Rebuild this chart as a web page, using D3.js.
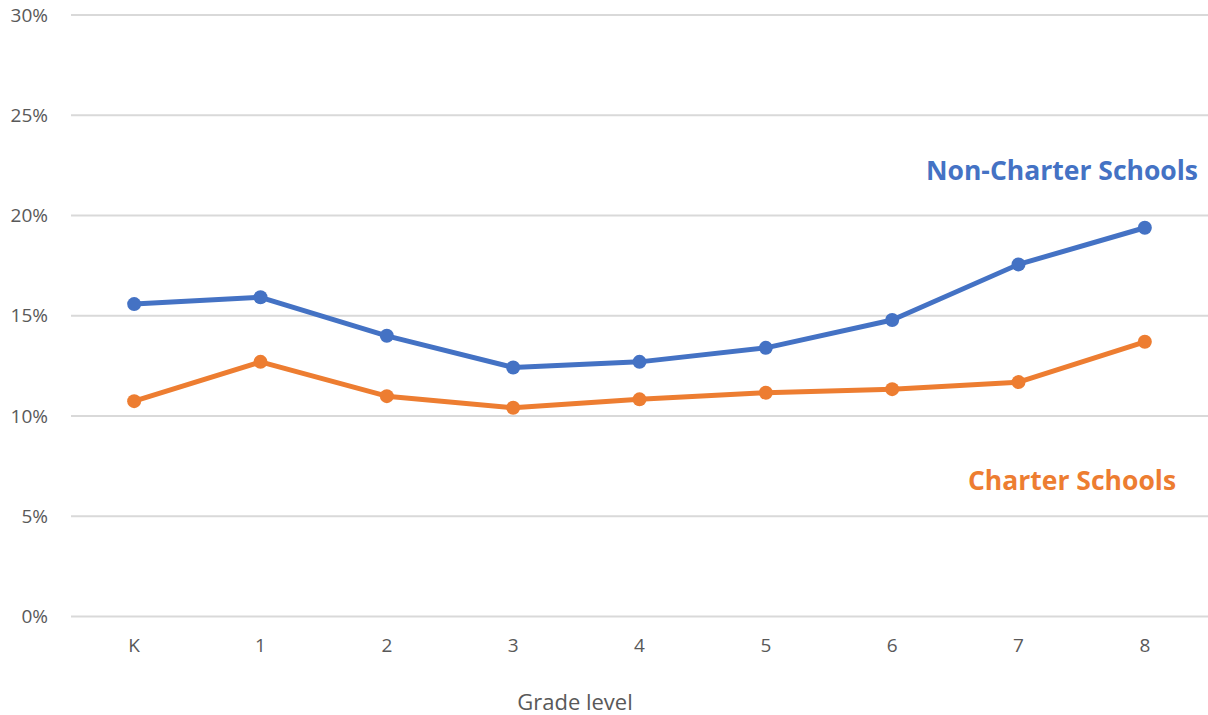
<!DOCTYPE html>
<html>
<head>
<meta charset="utf-8">
<script src="https://cdn.jsdelivr.net/npm/d3@7"></script>
<style>
  html, body { margin: 0; padding: 0; background: #fff; }
  svg { display: block; font-family: "Open Sans", "Noto Sans", sans-serif; }
</style>
</head>
<body>
<svg id="chart" width="1208" height="715"></svg>
<script>
// Grade levels and share (%) per school type
const grades = ["K", "1", "2", "3", "4", "5", "6", "7", "8"];
const nonCharter = [15.58, 15.92, 14.0, 12.42, 12.70, 13.40, 14.79, 17.56, 19.39];
const charter = [10.74, 12.70, 10.99, 10.41, 10.83, 11.16, 11.34, 11.69, 13.70];
const yTicks = [0, 5, 10, 15, 20, 25, 30];

const svg = d3.select("#chart");

const x = d3.scaleBand().domain(grades).range([71, 1208]);
const xc = g => x(g) + x.bandwidth() / 2;
const y = d3.scaleLinear().domain([0, 30]).range([616.5, 15]);

// Horizontal gridlines
svg.append("g")
  .selectAll("line")
  .data(yTicks)
  .join("line")
  .attr("x1", 71).attr("x2", 1208)
  .attr("y1", d => y(d)).attr("y2", d => y(d))
  .attr("stroke", "#d9d9d9")
  .attr("stroke-width", 1.8);

// Y axis labels
const yAxis = svg.append("g")
  .attr("transform", "translate(48,0)")
  .call(d3.axisLeft(y).tickValues(yTicks).tickFormat(d => d + "%").tickSize(0).tickPadding(0));
yAxis.select(".domain").remove();
yAxis.selectAll("text")
  .attr("fill", "#595959")
  .style("font-size", "19px")
  .style("font-family", "'Open Sans', sans-serif");

// X axis labels
const xAxis = svg.append("g")
  .attr("transform", "translate(0,638)")
  .call(d3.axisBottom(x).tickSize(0).tickPadding(0));
xAxis.select(".domain").remove();
xAxis.selectAll("text")
  .attr("fill", "#595959")
  .style("font-size", "19px")
  .style("font-family", "'Open Sans', sans-serif");

// Axis title
svg.append("text")
  .attr("x", 575).attr("y", 710)
  .attr("text-anchor", "middle")
  .attr("fill", "#595959")
  .style("font-size", "22px")
  .text("Grade level");

const series = [
  { name: "Non-Charter Schools", values: nonCharter, color: "#4472C4" },
  { name: "Charter Schools", values: charter, color: "#ED7D31" }
];

const line = d3.line()
  .x((d, i) => xc(grades[i]))
  .y(d => y(d));

series.forEach(s => {
  svg.append("path")
    .datum(s.values)
    .attr("fill", "none")
    .attr("stroke", s.color)
    .attr("stroke-width", 5)
    .attr("stroke-linejoin", "round")
    .attr("d", line);
  svg.append("g")
    .selectAll("circle")
    .data(s.values)
    .join("circle")
    .attr("cx", (d, i) => xc(grades[i]))
    .attr("cy", d => y(d))
    .attr("r", 7)
    .attr("fill", s.color);
});

// Series labels
svg.append("text")
  .attr("x", 1062).attr("y", 180)
  .attr("text-anchor", "middle")
  .attr("fill", "#4472C4")
  .style("font-size", "26.5px")
  .style("font-weight", "bold")
  .text("Non-Charter Schools");

svg.append("text")
  .attr("x", 1072).attr("y", 490)
  .attr("text-anchor", "middle")
  .attr("fill", "#ED7D31")
  .style("font-size", "26.5px")
  .style("font-weight", "bold")
  .text("Charter Schools");
</script>
</body>
</html>
